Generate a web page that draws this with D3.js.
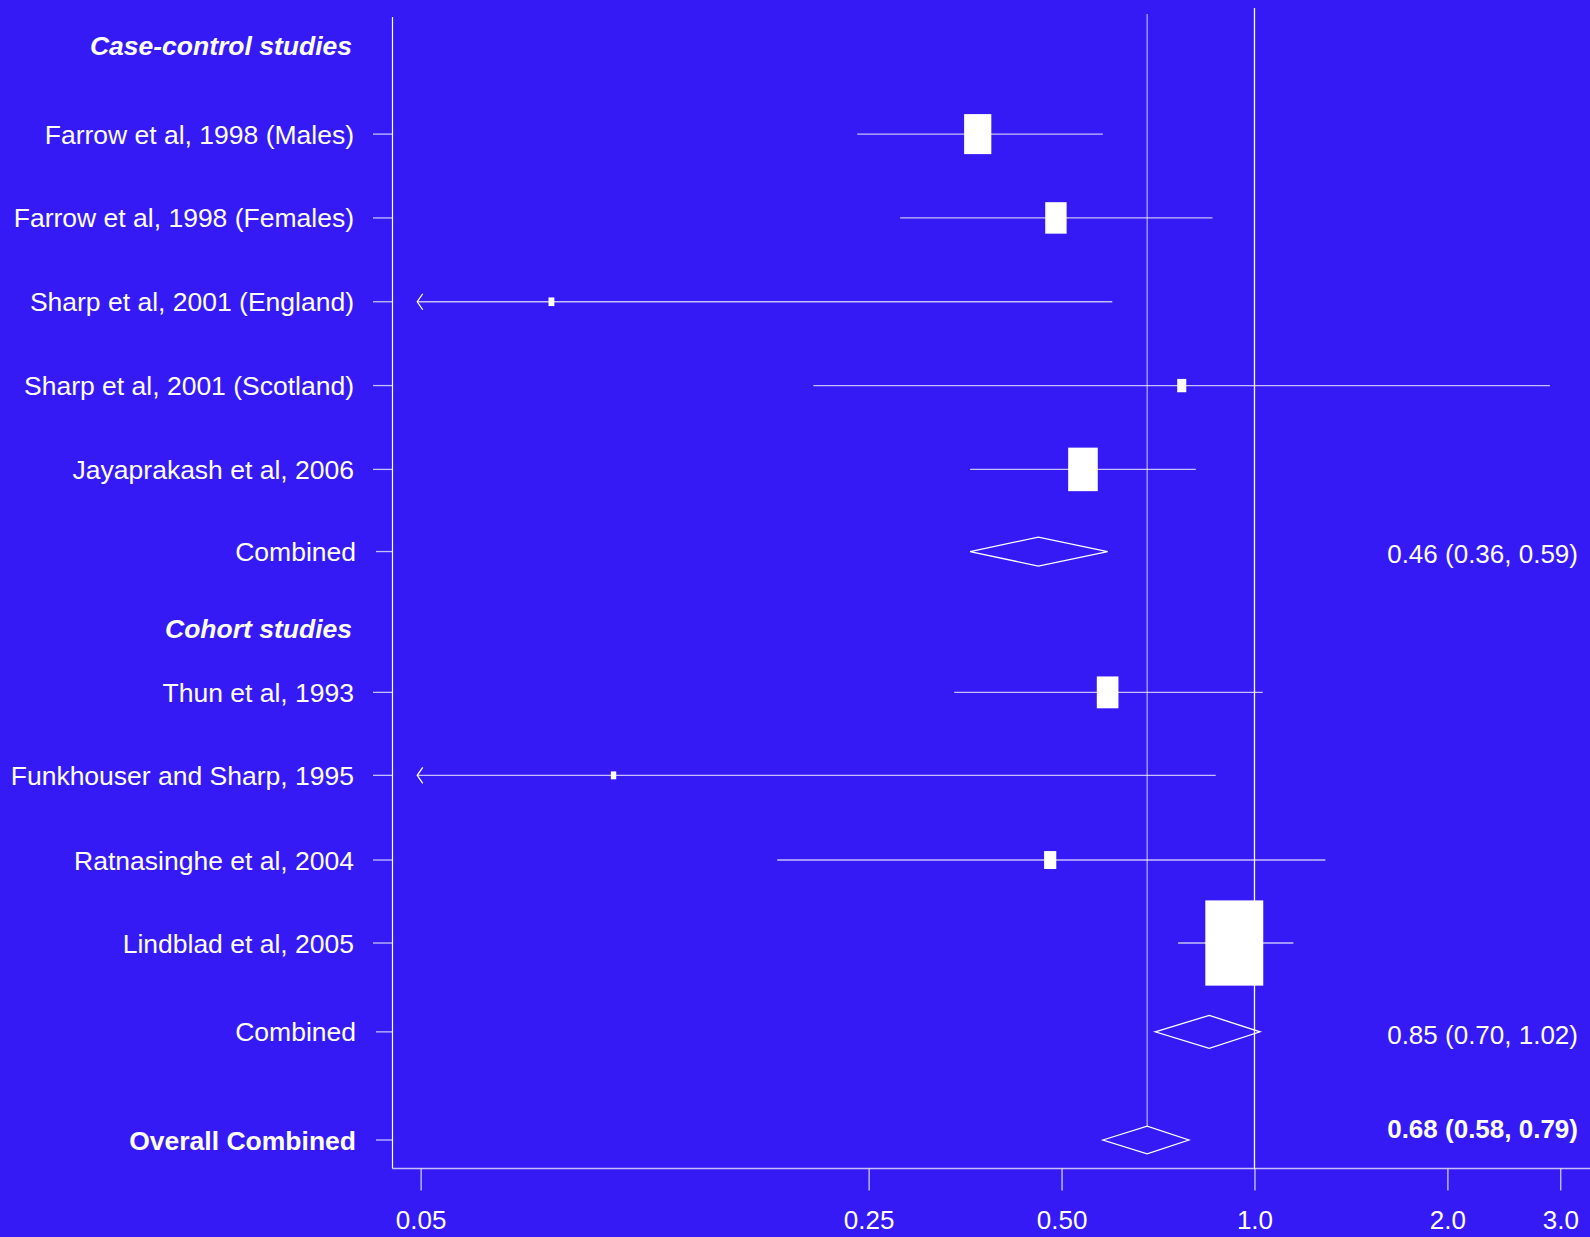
<!DOCTYPE html>
<html>
<head>
<meta charset="utf-8">
<script src="https://cdn.jsdelivr.net/npm/d3@7"></script>
<style>
  html, body { margin: 0; padding: 0; background: #361af6; }
  svg { display: block; }
  text { font-family: "Liberation Sans", Arial, Helvetica, sans-serif; fill: #ffffff; }
</style>
</head>
<body>
<svg id="chart" width="1590" height="1237"></svg>
<script>
// ---- data: odds ratios with 95% confidence intervals ----
const groupHeadings = ["Case-control studies", "Cohort studies"];

const studyLabels = [
  "Farrow et al, 1998 (Males)",
  "Farrow et al, 1998 (Females)",
  "Sharp et al, 2001 (England)",
  "Sharp et al, 2001 (Scotland)",
  "Jayaprakash et al, 2006",
  "Thun et al, 1993",
  "Funkhouser and Sharp, 1995",
  "Ratnasinghe et al, 2004",
  "Lindblad et al, 2005"
];
const studyGroup = [0, 0, 0, 0, 0, 1, 1, 1, 1];
const studyOR    = [0.37, 0.49, 0.08, 0.77, 0.54, 0.59, 0.10, 0.48, 0.93];
const studyLower = [0.24, 0.28, 0.01, 0.205, 0.36, 0.34, 0.01, 0.18, 0.76];
const studyUpper = [0.58, 0.86, 0.60, 2.89, 0.81, 1.03, 0.87, 1.29, 1.15];

const summaryLabels = ["Combined", "Combined", "Overall Combined"];
const summaryOR     = [0.46, 0.85, 0.68];
const summaryLower  = [0.36, 0.70, 0.58];
const summaryUpper  = [0.59, 1.02, 0.79];

const tickValues = [0.05, 0.25, 0.50, 1.0, 2.0, 3.0];
const tickLabels = ["0.05", "0.25", "0.50", "1.0", "2.0", "3.0"];

// ---- layout ----
const svg = d3.select("#chart");
const fontSize = 26;
const labelSize = 26.5;
const labelRight = 354;     // right edge of the study labels
const axisLeft = 392.5;     // left frame line
const axisBottom = 1168.5;  // bottom frame line
const estRight = 1578;      // right edge of summary estimates
const lowClip = 0.0494;     // CIs below this are drawn as arrows

const x = d3.scaleLog().domain([0.05, 3]).range([420.6, 1560.3]);
const y = d3.scaleLinear().domain([0, 12]).range([134.1, 1140]);

// vertical slot of each row (in row units)
const headingSlot = [-1.06, 5.9];
const studySlot = [0, 1, 2, 3, 4, 6.66, 7.65, 8.66, 9.65];
const summarySlot = [4.98, 10.71, 12];
const diamondHeight = [29, 33, 27.5];
const estimateOffset = [2, 3, -11.4];

const fmt = d3.format(".2f");
const lineCol = "rgba(255,255,255,0.72)";

// frame: left and bottom axis lines
svg.append("line")
  .attr("x1", axisLeft).attr("x2", axisLeft)
  .attr("y1", 17).attr("y2", axisBottom)
  .attr("stroke", "#fff").attr("stroke-width", 1.2);

// bottom axis with log ticks
const xAxis = d3.axisBottom(x)
  .tickValues(tickValues)
  .tickFormat((d, i) => tickLabels[i])
  .tickSize(22)
  .tickPadding(20);
const gx = svg.append("g")
  .attr("transform", `translate(0,${axisBottom})`)
  .call(xAxis);
gx.select(".domain").remove();
gx.selectAll(".tick line").attr("stroke", "#fff").attr("stroke-width", 1);
gx.selectAll(".tick text")
  .attr("fill", "#fff")
  .style("font-size", fontSize + "px")
  .style("font-family", "'Liberation Sans', Arial, sans-serif");
svg.append("line")
  .attr("x1", axisLeft).attr("x2", 1590)
  .attr("y1", axisBottom).attr("y2", axisBottom)
  .attr("stroke", lineCol).attr("stroke-width", 1.6);

// reference line at OR = 1
svg.append("line")
  .attr("x1", x(1)).attr("x2", x(1))
  .attr("y1", 8).attr("y2", axisBottom)
  .attr("stroke", "#fff").attr("stroke-width", 1.3);

// overall summary line, down to the top of the overall diamond
const ov = summaryOR.length - 1;
svg.append("line")
  .attr("x1", x(summaryOR[ov])).attr("x2", x(summaryOR[ov]))
  .attr("y1", 14).attr("y2", y(summarySlot[ov]) - diamondHeight[ov] / 2)
  .attr("stroke", lineCol).attr("stroke-width", 1.1);

// group headings
svg.selectAll("text.heading")
  .data(groupHeadings)
  .join("text")
  .attr("class", "heading")
  .attr("x", labelRight - 2)
  .attr("y", (d, i) => y(headingSlot[i]))
  .attr("dy", "0.36em")
  .attr("text-anchor", "end")
  .style("font-size", labelSize + "px")
  .style("font-weight", "bold")
  .style("font-style", "italic")
  .text(d => d);

// study rows
const studies = studyLabels.map((label, i) => ({
  label, group: studyGroup[i], or: studyOR[i], lo: studyLower[i], hi: studyUpper[i], slot: studySlot[i]
}));

const rows = svg.selectAll("g.study")
  .data(studies)
  .join("g")
  .attr("class", "study")
  .attr("transform", d => `translate(0,${y(d.slot)})`);

rows.append("text")
  .attr("x", labelRight)
  .attr("dy", "0.36em")
  .attr("text-anchor", "end")
  .style("font-size", labelSize + "px")
  .text(d => d.label);

rows.append("line")
  .attr("x1", 373).attr("x2", axisLeft)
  .attr("stroke", lineCol).attr("stroke-width", 1.3);

rows.append("line")
  .attr("x1", d => x(Math.max(d.lo, lowClip)))
  .attr("x2", d => x(d.hi))
  .attr("stroke", lineCol).attr("stroke-width", 1.3);

// arrowheads for truncated lower limits
rows.filter(d => d.lo < lowClip)
  .append("path")
  .attr("d", () => {
    const tx = x(lowClip);
    return `M${tx + 5.5},-8 L${tx},0 L${tx + 5.5},8`;
  })
  .attr("fill", "none").attr("stroke", "#fff").attr("stroke-width", 1.3);

// boxes sized by precision (inverse of the log-scale standard error)
const boxH = d => 35.3 / Math.log(d.hi / d.lo);
rows.append("rect")
  .attr("x", d => x(d.or) - boxH(d) * 0.68 / 2)
  .attr("y", d => -boxH(d) / 2)
  .attr("width", d => boxH(d) * 0.68)
  .attr("height", d => boxH(d))
  .attr("fill", "#fff");

// summary rows
const summaries = summaryLabels.map((label, i) => ({
  label, or: summaryOR[i], lo: summaryLower[i], hi: summaryUpper[i],
  slot: summarySlot[i], h: diamondHeight[i], off: estimateOffset[i], bold: i === ov
}));

const srows = svg.selectAll("g.summary")
  .data(summaries)
  .join("g")
  .attr("class", "summary")
  .attr("transform", d => `translate(0,${y(d.slot)})`);

srows.append("text")
  .attr("x", labelRight + 2)
  .attr("dy", "0.36em")
  .attr("text-anchor", "end")
  .style("font-size", labelSize + "px")
  .style("font-weight", d => d.bold ? "bold" : "normal")
  .text(d => d.label);

srows.append("line")
  .attr("x1", 376).attr("x2", axisLeft)
  .attr("stroke", lineCol).attr("stroke-width", 1.3);

srows.append("path")
  .attr("d", d => `M${x(d.lo)},0 L${x(d.or)},${-d.h / 2} L${x(d.hi)},0 L${x(d.or)},${d.h / 2} Z`)
  .attr("fill", "none").attr("stroke", "#fff").attr("stroke-width", 1.3);

srows.append("text")
  .attr("x", estRight)
  .attr("y", d => d.off)
  .attr("dy", "0.36em")
  .attr("text-anchor", "end")
  .style("font-size", fontSize + "px")
  .style("font-weight", d => d.bold ? "bold" : "normal")
  .text(d => `${fmt(d.or)} (${fmt(d.lo)}, ${fmt(d.hi)})`);
</script>
</body>
</html>
